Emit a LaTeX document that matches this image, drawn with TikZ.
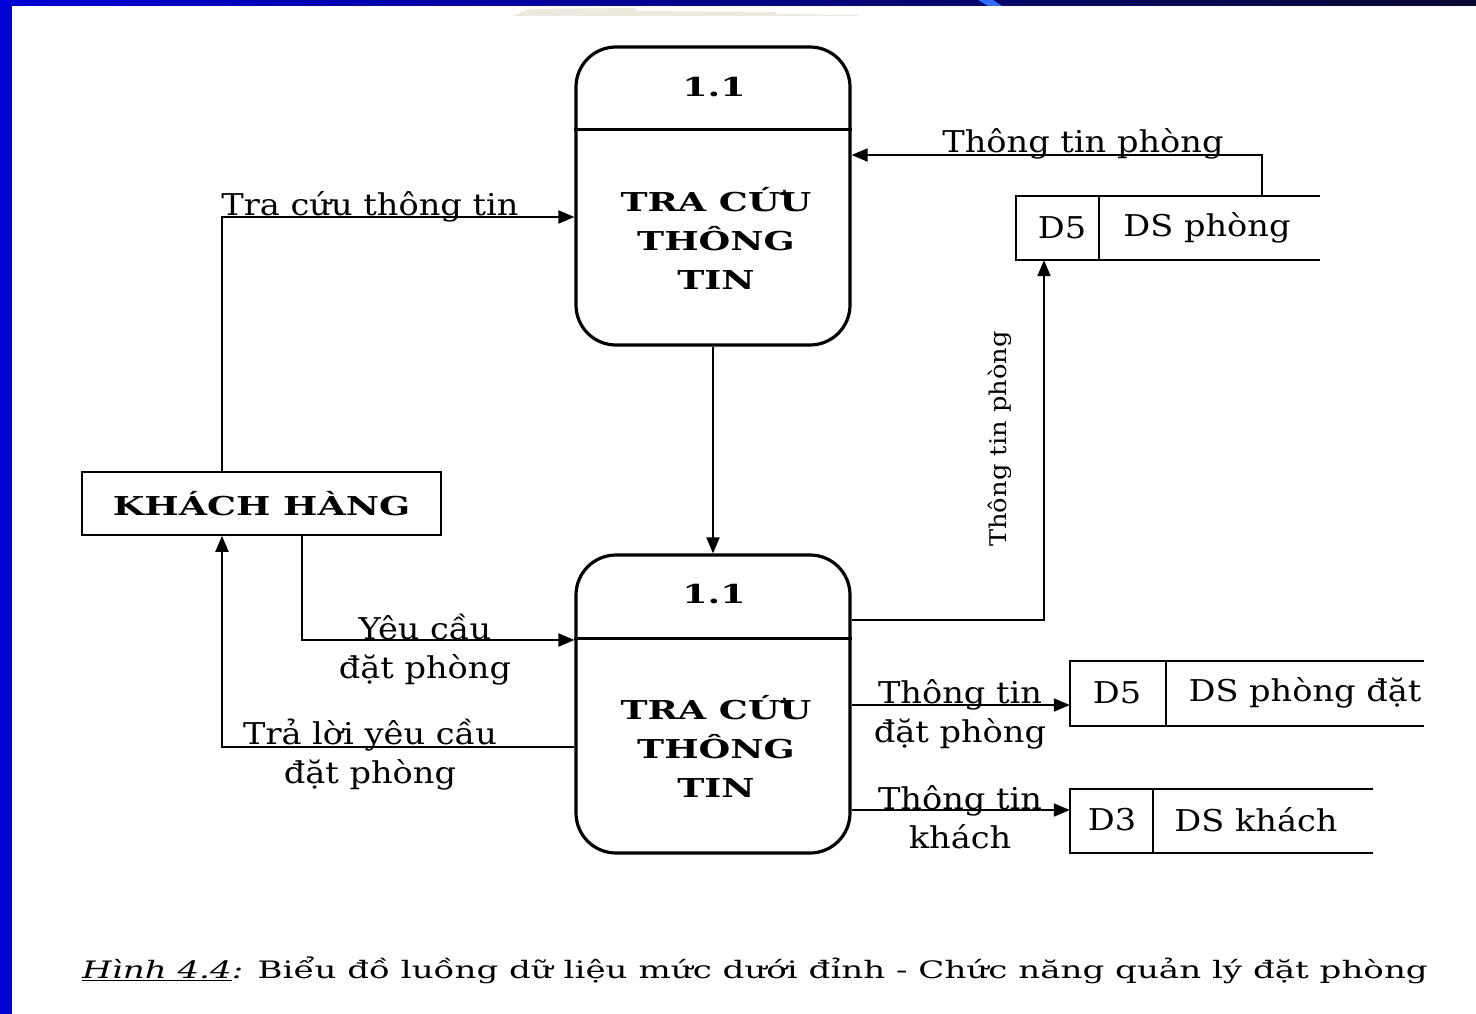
\documentclass[tikz,border=0pt]{standalone}
\usepackage{fontspec}
\setmainfont{DejaVu Serif}[FakeStretch=1.12]
\newfontfamily\procfont{DejaVu Serif}[FakeStretch=1.4]
\newfontfamily\capfont{DejaVu Serif}[FakeStretch=1.42]
\usetikzlibrary{arrows.meta,calc}
\definecolor{barblue}{RGB}{0,0,215}
\definecolor{barnavy}{RGB}{8,8,50}
\definecolor{slash}{RGB}{50,110,255}
\definecolor{smudge}{RGB}{236,233,222}
\begin{document}
\begin{tikzpicture}[x=1pt,y=-1pt,
 proc/.style={draw,line width=3.2pt,rounded corners=40pt,minimum width=274pt,minimum height=298pt,inner sep=0pt},
 flow/.style={line width=2pt,-{Triangle[length=16pt,width=13pt]}},
 lbl/.style={font=\fontsize{30}{39}\selectfont,inner sep=0pt,align=center},
 ptxt/.style={font=\procfont\fontsize{26}{39}\selectfont\bfseries,align=center,inner sep=0pt},
 store/.style={minimum height=64pt,inner sep=0pt},
 storeline/.style={line width=2pt}]
\useasboundingbox (0,0) rectangle (1476,1014);
\fill[white] (0,0) rectangle (1476,1014);
\fill[barblue] (0,0) rectangle (12,1014);
\shade[left color=barblue,right color=barnavy] (0,0) rectangle (1476,6);
\fill[slash] (978,0) -- (993,0) -- (1002,6) -- (988,6) -- cycle;
\fill[smudge] (512,16) -- (530,9) -- (635,8) -- (637,11) -- (775,12) -- (778,14) -- (858,15) -- (858,16) -- cycle;
% processes
\node[proc] (p1) at (713,196) {};
\node[proc] (p2) at (713,704) {};
\draw[line width=3pt] (p1.west |- 0,130) -- (p1.east |- 0,130);
\draw[line width=3pt] (p2.west |- 0,638) -- (p2.east |- 0,638);
\node[ptxt] (n1) at (714,87) {1.1};
\node[ptxt] (t1) at (716,238) {TRA CỨU\\THÔNG\\TIN};
\node[ptxt] (n2) at (714,594) {1.1};
\node[ptxt] (t2) at (716,746) {TRA CỨU\\THÔNG\\TIN};
% external entity
\node[draw,line width=1.6pt,minimum width=359pt,minimum height=63pt,inner sep=0pt,font=\procfont\fontsize{26}{36}\selectfont\bfseries] (kh) at (261.5,503.5) {KHÁCH HÀNG};
% data stores
\node[store,minimum width=304pt] (s1) at (1168,228) {};
\draw[storeline] (s1.north east) -- (s1.north west) -- (s1.south west) -- (s1.south east);
\draw[storeline] (s1.north -| 1099,0) -- (s1.south -| 1099,0);
\node[lbl] (s1a) at (1062,228) {D5};
\node[lbl] (s1b) at (1207,228) {DS phòng};
\node[store,minimum width=354pt] (s2) at (1247,693.5) {};
\draw[storeline] (s2.north east) -- (s2.north west) -- (s2.south west) -- (s2.south east);
\draw[storeline] (s2.north -| 1166,0) -- (s2.south -| 1166,0);
\node[lbl] (s2a) at (1117,693) {D5};
\node[lbl] (s2b) at (1305,693) {DS phòng đặt};
\node[store,minimum width=303pt] (s3) at (1221.5,821) {};
\draw[storeline] (s3.north east) -- (s3.north west) -- (s3.south west) -- (s3.south east);
\draw[storeline] (s3.north -| 1153,0) -- (s3.south -| 1153,0);
\node[lbl] (s3a) at (1112,820) {D3};
\node[lbl] (s3b) at (1256,820) {DS khách};
% flows
\draw[flow] (kh.north -| 222,0) |- (p1.west |- 0,217);
\node[lbl,anchor=base] (l1) at (370,215) {Tra cứu thông tin};
\draw[flow] (p1.south) -- (p2.north);
\draw[flow] (s1.north -| 1262,0) |- (p1.east |- 0,155);
\node[lbl,anchor=base] (l3) at (1083,153) {Thông tin phòng};
\draw[flow] (p2.east |- 0,620) -| (s1.south -| 1044,0);
\node[lbl,rotate=90,font=\fontsize{23}{28}\selectfont] (l4) at (1000,439) {Thông tin phòng};
\draw[flow] (kh.south -| 302,0) |- (p2.west |- 0,640);
\node[lbl,anchor=base] (l5) at (425,678) {Yêu cầu\\đặt phòng};
\draw[flow] (p2.west |- 0,747) -| (kh.south -| 222,0);
\node[lbl,anchor=base] (l6) at (370,783) {Trả lời yêu cầu\\đặt phòng};
\draw[flow] (p2.east |- 0,705) -- (s2.west |- 0,705);
\node[lbl,anchor=base] (l7) at (960,742) {Thông tin\\đặt phòng};
\draw[flow] (p2.east |- 0,810) -- (s3.west |- 0,810);
\node[lbl,anchor=base] (l8) at (960,848) {Thông tin\\khách};
% caption
\node[anchor=base west,inner sep=0pt,font=\capfont\fontsize{24}{30}\selectfont] (cap) at (82,978) {\underline{\textit{Hình 4.4}}\textit{:} Biểu đồ luồng dữ liệu mức dưới đỉnh - Chức năng quản lý đặt phòng};
\end{tikzpicture}
\end{document}
